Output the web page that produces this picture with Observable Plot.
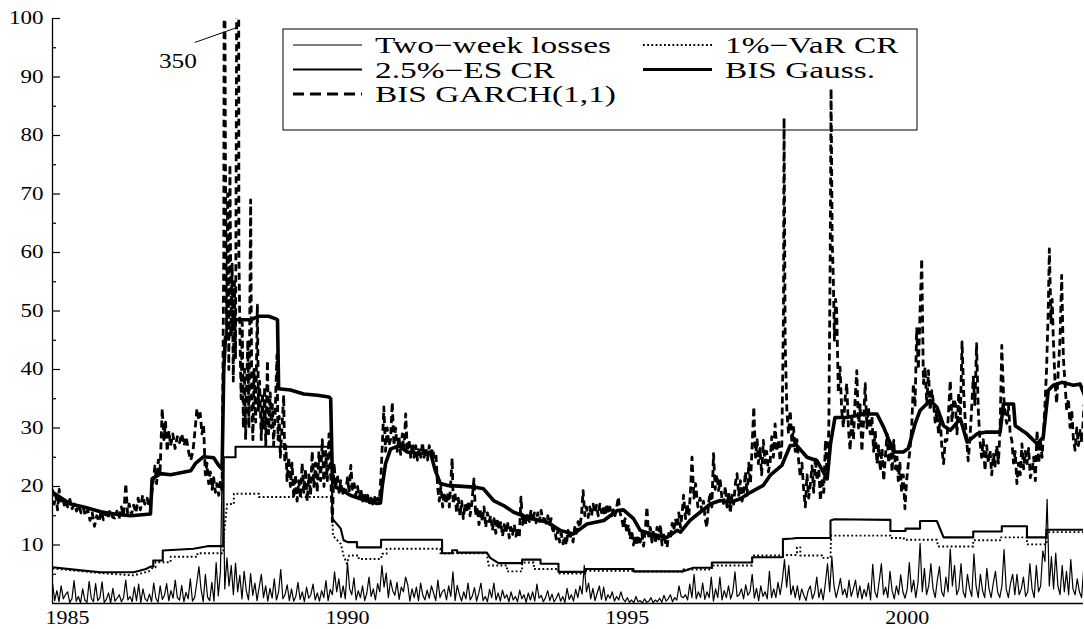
<!DOCTYPE html>
<html><head><meta charset="utf-8">
<script src="https://cdn.jsdelivr.net/npm/d3@7"></script>
<script src="https://cdn.jsdelivr.net/npm/@observablehq/plot@0.6"></script>
<style>body{margin:0;background:#fff}#chart{position:relative;width:1084px;height:629px}</style>
</head><body><div id="chart"></div>
<script>
// ---------- data ----------
const xTicks = [1985, 1990, 1995, 2000];
const yMajorTicks = [10, 20, 30, 40, 50, 60, 70, 80, 90, 100];
const yMinorTicks = [5, 15, 25, 35, 45, 55, 65, 75, 85, 95];
const xDomain = [1984.73, 2003.15];
const yDomain = [0, 100];
const seriesNames = ["Two−week losses", "1%−VaR CR", "2.5%−ES CR", "BIS Gauss.", "BIS GARCH(1,1)"];
const annotationLabel = [{text: "350", x: 1986.97, y: 92.7}];
const annotationLine = [{x1: 1987.27, y1: 95.9, x2: 1988.04, y2: 98.5}];

// two-week losses, one value per two weeks, starting 1984 + 19/26
const lossStart = 1984 + 19 / 26;
const lossPerYear = 26;
const lossValues = [
  3.4, 0.5, 2.2, 0.3, 3.0, 0.8, 1.5,
  2.0, 0.2, 0.8, 3.9, 0.4, 1.2, 0.1, 2.5, 0.6, 0.2, 3.8, 0.9, 0.3, 3.4, 0.5, 1.0, 3.7, 0.2, 0.7, 1.8, 0.1, 2.6, 0.4, 0.9, 1.5, 0.3,
  1.0, 4.0, 0.6, 1.2, 0.3, 2.8, 0.5, 3.3, 0.2, 2.5, 0.8, 0.4, 1.6, 0.3, 3.5, 0.9, 0.2, 3.0, 0.7, 1.4, 3.4, 0.5, 2.2, 0.9, 4.0, 1.0,
  0.6, 3.1, 0.3, 1.9, 0.8, 4.2, 0.4, 1.0, 3.5, 6.3, 2.4, 0.3, 5.0, 1.1, 0.5, 3.6, 0.4, 7.0, 1.3, 5.5, 28.0, 2.5, 7.8, 3.0, 6.5, 1.5,
  6.9, 2.0, 4.8, 0.8, 5.5, 2.2, 0.6, 5.1, 1.4, 3.5, 0.5, 2.8, 5.0, 1.0, 3.0, 0.4, 2.6, 0.9, 4.2, 0.6, 2.0, 5.8, 0.8, 1.5, 3.2, 0.5,
  2.5, 0.4, 1.2, 3.6, 0.7, 2.0, 0.3, 2.8, 0.9, 1.5, 3.3, 0.6, 1.8, 0.4, 2.2, 1.0, 3.9, 0.5, 2.4, 1.5, 5.4, 2.0, 4.2, 1.0, 3.0, 0.8,
  7.0, 2.5, 1.5, 4.4, 0.6, 2.2, 1.0, 3.0, 0.5, 1.8, 4.5, 1.2, 2.5, 0.6, 3.4, 2.0, 6.5, 2.8, 5.2, 1.0, 4.0, 2.2, 1.4, 3.6, 0.7, 2.8,
  2.0, 4.5, 3.2, 0.4, 2.5, 1.0, 2.8, 0.5, 3.5, 1.4, 0.6, 2.3, 0.9, 3.0, 1.8, 0.5, 4.0, 1.0, 2.0, 2.4, 0.6, 3.0, 1.2, 5.4, 0.5, 3.1,
  1.5, 0.4, 2.0, 0.8, 3.5, 0.6, 1.3, 2.7, 0.4, 1.8, 3.5, 0.5, 1.2, 0.3, 2.4, 1.0, 3.5, 0.6, 1.8, 0.4, 2.3, 0.9, 1.5, 0.3, 2.0, 0.6,
  1.2, 0.3, 2.3, 0.8, 1.5, 0.2, 1.8, 0.6, 2.0, 0.4, 3.3, 0.9, 1.4, 0.3, 1.0, 2.2, 0.5, 1.6, 0.3, 0.9, 1.8, 0.4, 1.2, 0.2, 2.6, 0.7,
  1.5, 0.4, 2.4, 1.0, 3.0, 1.6, 6.5, 2.0, 3.5, 0.8, 2.6, 0.5, 1.8, 3.0, 0.7, 2.8, 0.5, 1.5, 0.9, 2.0, 0.4, 1.2, 0.6, 2.0, 0.8, 0.3,
  1.0, 0.2, 0.6, 0.1, 1.2, 0.3, 0.5, 0.1, 0.8, 0.2, 0.4, 1.0, 0.1, 0.6, 0.3, 0.9, 0.2, 1.4, 0.4, 0.8, 1.5, 0.3, 1.0, 0.6, 3.0, 1.2,
  1.0, 1.5, 0.6, 3.3, 1.0, 5.0, 0.8, 2.0, 1.0, 3.5, 0.7, 2.0, 1.0, 4.5, 0.4, 2.5, 1.0, 4.5, 0.6, 2.2, 1.0, 3.0, 0.8, 2.0, 5.4, 1.2,
  1.5, 2.5, 0.8, 3.2, 1.4, 2.0, 5.0, 0.9, 2.6, 0.5, 3.0, 1.2, 2.0, 0.8, 5.5, 1.0, 2.5, 1.0, 3.6, 1.5, 4.0, 7.5, 2.8, 6.5, 1.5, 3.0,
  1.0, 3.0, 0.6, 2.5, 1.4, 0.5, 2.2, 3.0, 0.8, 1.8, 4.5, 1.0, 2.5, 0.6, 3.5, 6.8, 2.0, 8.0, 3.0, 1.0, 2.5, 4.3, 1.5, 2.5, 1.0, 4.0,
  1.2, 2.5, 4.0, 1.0, 3.0, 0.8, 2.4, 1.2, 3.5, 0.6, 6.7, 2.0, 1.0, 3.8, 6.8, 1.5, 2.8, 1.0, 5.5, 2.2, 0.8, 3.0, 1.5, 4.9, 2.0, 0.9,
  2.5, 7.0, 2.0, 4.0, 1.0, 3.5, 10.3, 2.0, 6.0, 1.5, 3.0, 6.8, 2.5, 1.0, 4.0, 6.3, 2.0, 1.2, 4.5, 2.0, 9.3, 3.0, 6.5, 1.5, 2.5, 6.8,
  2.0, 1.0, 5.0, 2.5, 1.2, 8.5, 3.0, 1.0, 5.0, 2.2, 1.0, 6.0, 2.5, 1.0, 3.5, 5.5, 2.0, 1.0, 3.0, 9.2, 2.5, 1.0, 3.5, 5.0, 1.5, 5.0,
  1.5, 2.5, 4.5, 1.2, 2.0, 6.8, 2.5, 1.0, 6.5, 2.0, 3.0, 9.0, 7.2, 17.8, 3.0, 8.0, 2.5, 8.6, 3.0, 1.5, 6.5, 2.0, 5.5, 1.5, 7.5, 2.5,
  1.5, 4.2, 2.0, 1.0, 6.0
];

// 1%-VaR capital requirement [year, value]
const varCR = [
  [1984.73, 6.0], [1985.59, 5.2], [1986.18, 4.8], [1986.45, 5.5], [1986.53, 6.2], [1986.57, 6.2], [1986.57, 7.06],
  [1986.84, 7.06], [1986.84, 8.0], [1987.32, 8.0], [1987.32, 8.6], [1987.78, 8.6], [1987.79, 11.6], [1987.85, 17.0],
  [1987.97, 17.0], [1987.97, 18.75], [1988.42, 18.75], [1988.42, 18.2], [1989.72, 18.2], [1989.74, 11.6], [1989.88, 10.2],
  [1989.93, 8.2], [1989.99, 6.8], [1990.03, 8.2], [1990.20, 8.2], [1990.20, 7.6], [1990.60, 7.6], [1990.62, 8.5],
  [1990.70, 8.5], [1990.70, 9.35], [1991.66, 9.35], [1991.66, 8.6], [1992.49, 8.6], [1992.52, 6.5], [1992.85, 6.5],
  [1992.85, 5.5], [1993.12, 5.5], [1993.12, 7.0], [1993.33, 7.0], [1993.33, 5.9], [1993.77, 5.9], [1993.77, 5.1],
  [1994.25, 5.1], [1994.25, 5.6], [1995.11, 5.6], [1995.11, 5.45], [1996.00, 5.45], [1996.00, 5.8], [1996.51, 5.8],
  [1996.51, 6.5], [1997.23, 6.5], [1997.23, 8.2], [1997.78, 8.2], [1997.78, 8.3], [1998.03, 8.3], [1998.03, 9.6],
  [1998.09, 9.6], [1998.09, 8.2], [1998.48, 8.2], [1998.48, 7.8], [1998.63, 7.8], [1998.64, 11.6], [1999.70, 11.6],
  [1999.70, 11.2], [1999.94, 11.2], [1999.94, 10.9], [2000.53, 10.9], [2000.55, 9.75], [2001.18, 9.75], [2001.18, 10.8],
  [2001.66, 10.8], [2001.66, 11.3], [2002.14, 11.3], [2002.14, 10.1], [2002.49, 10.1], [2002.49, 12.2], [2003.20, 12.2]
];

// 2.5%-ES capital requirement [year, value]
const esCR = [
  [1984.73, 6.2], [1985.20, 5.7], [1985.59, 5.35], [1986.18, 5.35], [1986.40, 5.9], [1986.48, 6.3], [1986.53, 6.3],
  [1986.53, 7.35], [1986.70, 7.35], [1986.70, 9.06], [1987.25, 9.35], [1987.50, 9.8], [1987.78, 9.8], [1987.79, 25.0],
  [1988.00, 25.0], [1988.00, 26.8], [1989.72, 26.8], [1989.73, 14.5], [1989.88, 12.8], [1989.93, 10.8], [1990.00, 10.5],
  [1990.17, 10.5], [1990.17, 9.6], [1990.60, 9.6], [1990.60, 10.9], [1991.69, 10.9], [1991.69, 8.6], [1991.87, 8.6],
  [1991.87, 9.1], [1991.96, 9.1], [1991.96, 8.7], [1992.49, 8.7], [1992.55, 7.8], [1992.70, 6.9], [1993.12, 6.9],
  [1993.12, 7.5], [1993.45, 7.5], [1993.45, 6.8], [1993.77, 6.8], [1993.77, 5.4], [1994.25, 5.4], [1994.25, 5.9],
  [1995.11, 5.9], [1995.11, 5.5], [1996.00, 5.5], [1996.18, 6.1], [1996.51, 6.1], [1996.51, 7.0], [1997.23, 7.0],
  [1997.23, 7.9], [1997.78, 7.9], [1997.78, 11.0], [1997.95, 11.1], [1998.03, 11.2], [1998.63, 11.2], [1998.63, 14.2],
  [1998.70, 14.4], [1999.70, 14.3], [1999.70, 12.4], [1999.97, 12.4], [1999.97, 12.8], [2000.23, 12.8], [2000.23, 14.1],
  [2000.53, 14.1], [2000.65, 11.3], [2001.18, 11.3], [2001.18, 12.3], [2001.69, 12.3], [2001.69, 13.2], [2002.14, 13.2],
  [2002.14, 11.3], [2002.49, 11.3], [2002.49, 12.6], [2003.20, 12.6]
];

// BIS Gaussian capital requirement [year, value]
const bisGauss = [
  [1984.73, 19.0], [1985.05, 17.0], [1985.29, 16.5], [1985.59, 15.7], [1985.89, 15.2], [1986.13, 15.0], [1986.48, 15.3],
  [1986.51, 21.3], [1986.66, 22.2], [1986.84, 22.0], [1987.20, 22.7], [1987.29, 24.0], [1987.43, 25.1], [1987.61, 24.9],
  [1987.70, 23.6], [1987.76, 23.0], [1987.79, 40.0], [1987.82, 45.5], [1987.91, 46.0], [1987.96, 48.5], [1988.06, 48.5],
  [1988.27, 48.5], [1988.42, 49.1], [1988.59, 49.1], [1988.71, 48.7], [1988.75, 48.5], [1988.77, 36.7], [1988.98, 36.5],
  [1989.22, 35.8], [1989.46, 35.6], [1989.67, 35.3], [1989.70, 35.0], [1989.73, 21.6], [1989.80, 19.8], [1989.88, 19.5],
  [1990.05, 18.5], [1990.23, 17.9], [1990.53, 17.1], [1990.59, 17.2], [1990.62, 20.0], [1990.68, 23.9], [1990.77, 26.4],
  [1990.92, 27.0], [1991.07, 25.9], [1991.30, 25.6], [1991.48, 25.9], [1991.57, 22.7], [1991.66, 20.5], [1991.78, 20.2],
  [1992.26, 19.9], [1992.43, 19.6], [1992.61, 17.6], [1992.79, 16.75], [1992.97, 15.6], [1993.21, 14.75], [1993.57, 13.9],
  [1993.80, 12.5], [1994.04, 11.9], [1994.28, 13.6], [1994.58, 14.2], [1994.82, 15.9], [1994.93, 16.0], [1995.11, 14.5],
  [1995.23, 12.5], [1995.41, 11.9], [1995.71, 11.3], [1995.89, 12.5], [1995.95, 12.2], [1996.12, 14.2], [1996.30, 15.6],
  [1996.48, 17.0], [1996.66, 17.6], [1996.84, 17.3], [1997.02, 17.9], [1997.20, 19.0], [1997.43, 20.2], [1997.55, 21.9],
  [1997.76, 23.6], [1997.91, 27.0], [1998.03, 27.0], [1998.21, 25.0], [1998.39, 24.4], [1998.57, 21.3], [1998.63, 27.3],
  [1998.71, 31.8], [1998.92, 31.8], [1999.22, 32.4], [1999.46, 32.4], [1999.58, 30.1], [1999.76, 25.9], [1999.93, 25.9],
  [2000.02, 26.5], [2000.14, 30.7], [2000.23, 33.0], [2000.41, 34.7], [2000.53, 33.6], [2000.65, 30.4], [2000.77, 29.6],
  [2000.95, 31.6], [2001.07, 27.6], [2001.25, 29.0], [2001.42, 29.3], [2001.66, 29.3], [2001.72, 34.1], [2001.90, 34.1],
  [2001.93, 30.4], [2002.14, 29.0], [2002.32, 27.3], [2002.43, 28.4], [2002.52, 36.4], [2002.61, 37.3], [2002.76, 37.8],
  [2002.97, 37.3], [2003.09, 37.5], [2003.16, 35.8]
];

// BIS GARCH(1,1) capital requirement [year, value]
const bisGarch = [
  [1984.73,19.5],[1984.76,17.0],[1984.79,18.5],[1984.82,16.0],[1984.85,19.5],[1984.88,17.5],[1984.91,18.2],[1984.94,16.8],
  [1984.97,17.5],[1985.00,16.5],[1985.04,17.8],[1985.08,16.2],[1985.12,17.0],[1985.16,15.8],[1985.20,16.8],[1985.24,15.5],
  [1985.28,16.3],[1985.32,15.0],[1985.36,16.0],[1985.40,14.2],[1985.44,15.5],[1985.48,13.2],[1985.52,15.0],[1985.56,14.0],
  [1985.60,15.8],[1985.64,14.3],[1985.68,15.5],[1985.72,14.5],[1985.76,16.0],[1985.80,14.8],[1985.84,14.6],[1985.88,15.8],
  [1985.92,14.5],[1985.96,16.5],[1986.00,15.0],[1986.04,20.5],[1986.07,15.5],[1986.10,17.0],[1986.14,15.2],[1986.18,16.8],
  [1986.22,15.5],[1986.26,18.0],[1986.30,16.0],[1986.34,18.5],[1986.38,17.0],[1986.42,18.0],[1986.46,16.5],[1986.50,18.5],
  [1986.53,21.0],[1986.56,23.5],[1986.59,20.5],[1986.62,24.5],[1986.65,22.0],[1986.69,33.3],[1986.72,28.0],[1986.75,31.0],
  [1986.78,26.0],[1986.81,29.5],[1986.84,27.0],[1986.88,29.0],[1986.92,26.5],[1986.96,28.5],[1987.00,27.5],[1987.04,29.0],
  [1987.08,27.0],[1987.12,28.5],[1987.16,26.0],[1987.20,24.5],[1987.24,26.0],[1987.28,30.0],[1987.31,33.3],[1987.34,31.5],
  [1987.37,32.5],[1987.40,29.0],[1987.43,30.5],[1987.46,22.0],[1987.49,24.0],[1987.52,20.5],[1987.55,22.5],[1987.58,19.5],
  [1987.61,21.5],[1987.64,19.0],[1987.67,20.5],[1987.70,18.5],[1987.73,21.0],[1987.76,19.0],
  [1987.79,60],[1987.80,130],[1987.82,75],[1987.84,45],[1987.86,70],[1987.88,40],[1987.90,75],[1987.92,48],[1987.94,58],
  [1987.96,38],[1987.98,55],[1988.00,42],[1988.02,100],[1988.04,350],[1988.06,60],[1988.08,45],[1988.10,35],[1988.12,48],
  [1988.14,30],[1988.16,40],[1988.18,28],[1988.20,38],[1988.22,45],[1988.24,30],[1988.27,69],[1988.29,35],[1988.31,28],
  [1988.33,40],[1988.36,31],[1988.39,51],[1988.41,33],[1988.43,38],[1988.46,28],[1988.48,36],[1988.50,30],[1988.52,37],
  [1988.54,27],[1988.57,41.5],[1988.59,29],[1988.62,36],[1988.64,30],[1988.66,34],[1988.68,27],[1988.71,33],[1988.74,42.5],
  [1988.76,28],[1988.78,32],[1988.80,25],[1988.83,30],[1988.86,35.6],[1988.88,24],[1988.90,27],[1988.92,21],[1988.95,25],
  [1988.98,20],[1989.01,24],[1989.04,18],[1989.07,22],[1989.10,17.5],[1989.13,21],[1989.16,18],[1989.19,24],[1989.22,19],
  [1989.25,23],[1989.28,17.5],[1989.31,22],[1989.34,18.5],[1989.37,26],[1989.40,20],[1989.43,24],[1989.46,19],[1989.49,26],
  [1989.52,21],[1989.55,28],[1989.58,20],[1989.61,26],[1989.64,21],[1989.67,29],[1989.70,22],[1989.73,14],[1989.76,24],
  [1989.79,20],[1989.82,22],[1989.85,19],[1989.88,21],[1989.91,18.5],[1989.94,20],[1989.97,19],[1990.00,21.5],[1990.03,19],
  [1990.06,23.6],[1990.09,19.5],[1990.12,20.5],[1990.15,18.5],[1990.18,20],[1990.21,18],[1990.24,19.5],[1990.27,17.5],
  [1990.30,19],[1990.33,17.5],[1990.36,18.5],[1990.39,17],[1990.42,18],[1990.45,17],[1990.48,18.5],[1990.51,17],[1990.54,18],
  [1990.57,17.5],[1990.60,22],[1990.65,33.6],[1990.68,26],[1990.71,30],[1990.74,27],[1990.77,28],[1990.80,34.4],[1990.83,27],
  [1990.86,30],[1990.89,26],[1990.92,28.5],[1990.95,25.5],[1990.98,29],[1991.01,26],[1991.04,32.4],[1991.07,26],[1991.10,28],
  [1991.13,25],[1991.16,27.5],[1991.19,25],[1991.22,27],[1991.25,24.5],[1991.28,26.5],[1991.31,25],[1991.34,27.5],[1991.37,25],
  [1991.40,26.5],[1991.43,24.5],[1991.46,27],[1991.49,25.5],[1991.52,26.5],[1991.55,25],[1991.58,25.6],[1991.61,20],
  [1991.64,17.5],[1991.67,20],[1991.70,16.5],[1991.73,19],[1991.76,17],[1991.79,19],[1991.82,16.5],[1991.87,24.8],[1991.89,17],
  [1991.92,19],[1991.95,15.5],[1991.98,18],[1992.01,15],[1992.04,17.5],[1992.07,14.5],[1992.10,17],[1992.13,15.5],[1992.16,17.5],
  [1992.19,15],[1992.22,17],[1992.26,21.3],[1992.29,15],[1992.32,16.5],[1992.35,13.5],[1992.38,16],[1992.41,14],[1992.44,16.5],
  [1992.47,13],[1992.50,15.5],[1992.53,14],[1992.56,15],[1992.59,12.5],[1992.62,14.5],[1992.65,12],[1992.68,14.5],[1992.71,12.5],
  [1992.74,14],[1992.77,11.5],[1992.80,13.5],[1992.83,12],[1992.86,14],[1992.89,11.2],[1992.92,13],[1992.95,11.8],[1992.98,13.5],
  [1993.01,11.5],[1993.04,13],[1993.07,11.2],[1993.10,18.2],[1993.13,13.5],[1993.16,15],[1993.19,13.5],[1993.22,15.5],
  [1993.25,14],[1993.28,16],[1993.31,14],[1993.34,15.5],[1993.37,13.8],[1993.40,15.5],[1993.43,14],[1993.46,15.9],[1993.49,14],
  [1993.52,15],[1993.55,13.7],[1993.58,15],[1993.61,13.5],[1993.64,14.5],[1993.67,12],[1993.70,13],[1993.73,11],[1993.76,12.5],
  [1993.79,10.5],[1993.82,12],[1993.85,10.2],[1993.88,11.5],[1993.91,10],[1993.94,12.5],[1993.97,11],[1994.00,12],[1994.03,10.5],
  [1994.06,13],[1994.09,12],[1994.12,14],[1994.15,13],[1994.18,15],[1994.21,19.3],[1994.24,15],[1994.27,16.5],[1994.30,14.7],
  [1994.33,16.5],[1994.36,15],[1994.39,17],[1994.42,15.5],[1994.45,16.8],[1994.48,15],[1994.51,17],[1994.54,15.5],[1994.57,16.5],
  [1994.60,15],[1994.63,17],[1994.66,15.5],[1994.69,16.5],[1994.72,15],[1994.75,16],[1994.78,15],[1994.81,16.5],[1994.84,18.2],
  [1994.87,15.5],[1994.90,14.5],[1994.93,13],[1994.96,14.5],[1994.99,12],[1995.02,13.5],[1995.05,11],[1995.08,12.5],[1995.11,10],
  [1995.14,11.5],[1995.17,9.9],[1995.20,11.5],[1995.23,10.5],[1995.26,12],[1995.29,9.8],[1995.32,12.5],[1995.35,16.5],
  [1995.38,11.5],[1995.41,13],[1995.44,10.5],[1995.47,12.5],[1995.50,10.3],[1995.53,13],[1995.56,11],[1995.59,13.5],[1995.62,10],
  [1995.65,12],[1995.68,10.5],[1995.71,9.6],[1995.74,12],[1995.77,11],[1995.80,13.7],[1995.83,12.5],[1995.86,14.5],[1995.89,13],
  [1995.92,15.5],[1995.95,13],[1995.98,15.5],[1996.005,18.5],[1996.04,14.5],[1996.07,17],[1996.10,15],[1996.13,19.5],
  [1996.155,25],[1996.19,18],[1996.22,20.5],[1996.26,16.5],[1996.30,18],[1996.33,15.9],[1996.36,17.5],[1996.39,14.5],
  [1996.42,13],[1996.45,17],[1996.48,19],[1996.51,16.5],[1996.54,25.6],[1996.57,19.5],[1996.60,22],[1996.63,19.3],[1996.66,21],
  [1996.69,18],[1996.72,17.1],[1996.75,20],[1996.78,16.5],[1996.81,19],[1996.84,15.4],[1996.87,18.5],[1996.90,17],[1996.93,20.5],
  [1996.96,22.2],[1996.99,18.5],[1997.02,21],[1997.05,17.5],[1997.08,19.3],[1997.11,22.5],[1997.14,18.5],[1997.17,24],
  [1997.20,20.5],[1997.23,27],[1997.26,33.6],[1997.29,25],[1997.32,28],[1997.34,23.9],[1997.37,26.5],[1997.40,22],[1997.43,27.9],
  [1997.46,24],[1997.49,26],[1997.52,22.5],[1997.55,24],[1997.58,28.5],[1997.61,25],[1997.64,30.7],[1997.67,26],[1997.70,28],
  [1997.73,24.4],[1997.76,27],[1997.79,50],[1997.80,83],[1997.82,45],[1997.85,33],[1997.88,29],[1997.91,33],[1997.94,27.5],
  [1997.97,30.1],[1998.00,26],[1998.03,28],[1998.06,24.5],[1998.09,21.6],[1998.12,24],[1998.15,19.5],[1998.18,16.5],[1998.21,22],
  [1998.24,18],[1998.27,20.5],[1998.30,23.5],[1998.33,19],[1998.36,25],[1998.39,21],[1998.42,23],[1998.45,17.6],[1998.48,21.5],
  [1998.51,19],[1998.54,27.9],[1998.57,21.5],[1998.60,30],[1998.625,60],[1998.64,88],[1998.66,62],[1998.68,55.8],[1998.70,45],
  [1998.72,52],[1998.74,50.1],[1998.77,36],[1998.80,40.4],[1998.83,33],[1998.86,30.1],[1998.89,35],[1998.92,37.6],[1998.95,30],
  [1998.98,26.2],[1999.01,32],[1999.04,28],[1999.07,35],[1999.10,39.8],[1999.13,30],[1999.16,34],[1999.19,26],[1999.22,31],
  [1999.25,37.6],[1999.28,30],[1999.31,33.5],[1999.34,29],[1999.37,32],[1999.40,26],[1999.43,29.5],[1999.46,23.9],[1999.49,27],
  [1999.52,22.7],[1999.55,26.5],[1999.58,21],[1999.61,25],[1999.64,29],[1999.67,24],[1999.70,27.9],[1999.73,22.5],[1999.76,27.9],
  [1999.79,23],[1999.82,25],[1999.84,21],[1999.87,24],[1999.90,19],[1999.93,22],[1999.96,16.2],[1999.99,21],[2000.02,23.9],
  [2000.05,26.2],[2000.08,30],[2000.11,37.6],[2000.14,33.6],[2000.17,47],[2000.20,40],[2000.23,50],[2000.26,58.9],[2000.29,37.6],
  [2000.32,40.4],[2000.35,34],[2000.38,39.8],[2000.41,33],[2000.44,36.4],[2000.47,34.2],[2000.50,31],[2000.53,33],[2000.56,29],
  [2000.59,31.5],[2000.62,26.5],[2000.65,23.9],[2000.68,28],[2000.71,27.9],[2000.74,33],[2000.77,38.1],[2000.80,31],[2000.83,35],
  [2000.86,34.2],[2000.89,29],[2000.92,36],[2000.95,32],[2000.98,44.7],[2001.01,36],[2001.04,30.8],[2001.07,27],[2001.09,24.4],
  [2001.12,28],[2001.15,33],[2001.18,38.7],[2001.21,34],[2001.24,44.4],[2001.27,33],[2001.30,27.9],[2001.33,25],[2001.36,28],
  [2001.39,22.7],[2001.42,27],[2001.45,24],[2001.48,26.2],[2001.51,22],[2001.54,25.5],[2001.57,23.5],[2001.60,27],[2001.63,24],
  [2001.66,30],[2001.69,44.1],[2001.72,36],[2001.75,32],[2001.78,30.8],[2001.81,34],[2001.84,29],[2001.87,27.9],[2001.90,24],
  [2001.93,26],[2001.96,20.5],[2001.99,24],[2002.02,22],[2002.05,27.3],[2002.08,23],[2002.11,26],[2002.14,23.9],[2002.17,26.5],
  [2002.20,21.5],[2002.23,22.7],[2002.26,25],[2002.29,21],[2002.32,29.6],[2002.35,24],[2002.38,27.9],[2002.41,25],[2002.44,30],
  [2002.46,33.6],[2002.49,40],[2002.52,50],[2002.54,60.6],[2002.57,48],[2002.59,52],[2002.61,45.5],[2002.64,38],[2002.67,34.2],
  [2002.70,40],[2002.73,45],[2002.76,56.1],[2002.79,42],[2002.82,37.6],[2002.85,33],[2002.88,35],[2002.91,30.1],[2002.94,33],
  [2002.97,28],[2003.00,26.2],[2003.03,30],[2003.06,27],[2003.09,29.6],[2003.12,27.5],[2003.16,34]
];

// ---------- tables ----------
const lossData = lossValues.map((v, i) => ({year: lossStart + i / lossPerYear, value: v}));
const pairs = arr => arr.map(([year, value]) => ({year, value}));

// ---------- styles ----------
const FONT = "'Liberation Serif', 'Times New Roman', serif";
const styles = {
  "Two−week losses": {strokeWidth: 1.2},
  "1%−VaR CR": {strokeWidth: 1.9, strokeDasharray: "1.8,2.4", strokeLinecap: "butt"},
  "2.5%−ES CR": {strokeWidth: 2.1},
  "BIS Gauss.": {strokeWidth: 3.6},
  "BIS GARCH(1,1)": {strokeWidth: 2.8, strokeDasharray: "7,4", strokeLinecap: "butt"}
};
const lineOpts = name => ({x: "year", y: "value", stroke: "black", clip: true, strokeLinejoin: "round", ...styles[name]});

const frameW = 1084 - 52 - 1;
const chart = Plot.plot({
  width: 1084, height: 629,
  marginLeft: 52, marginRight: 1, marginTop: 18, marginBottom: 26,
  style: {fontFamily: FONT, fontSize: "18px", color: "black", background: "white"},
  x: {domain: xDomain},
  y: {domain: yDomain},
  marks: [
    Plot.axisY({ticks: yMajorTicks, tickSize: 0, tickPadding: 9, fontSize: 18, tickFormat: d => String(d)}),
    Plot.axisX({ticks: xTicks, tickSize: 0, tickPadding: 7, fontSize: 19, tickFormat: d => String(d)}),
    Plot.tickY(yMajorTicks, {y: d => d, insetRight: frameW - 8, stroke: "black", strokeWidth: 1.2}),
    Plot.tickY(yMinorTicks, {y: d => d, insetRight: frameW - 4, stroke: "black", strokeWidth: 1.2}),
    Plot.line(lossData, lineOpts(seriesNames[0])),
    Plot.line(pairs(varCR), lineOpts(seriesNames[1])),
    Plot.line(pairs(esCR), lineOpts(seriesNames[2])),
    Plot.line(pairs(bisGarch), lineOpts(seriesNames[4])),
    Plot.line(pairs(bisGauss), lineOpts(seriesNames[3])),
    Plot.ruleX([xDomain[0]], {stroke: "black", strokeWidth: 1.3}),
    Plot.ruleY([yDomain[0]], {stroke: "black", strokeWidth: 1.3}),
    Plot.link(annotationLine, {x1: "x1", y1: "y1", x2: "x2", y2: "y2", stroke: "black", strokeWidth: 1}),
    Plot.text(annotationLabel, {x: "x", y: "y", text: "text", fontSize: 22, fill: "black"})
  ]
});
document.getElementById("chart").appendChild(chart);

// ---------- legend (inside the plot frame, no fill) ----------
const svg = d3.select(chart);
const lg = svg.append("g").attr("font-family", FONT).attr("font-size", 23).attr("fill", "black").attr("text-anchor", "start");
lg.append("rect").attr("x", 283).attr("y", 29).attr("width", 634).attr("height", 101)
  .attr("fill", "none").attr("stroke", "black").attr("stroke-width", 1);
const legendPos = [[0, 0], [1, 0], [0, 1], [1, 1], [0, 2]];
const colX = [293, 643], rowBase = [53, 77.5, 102];
seriesNames.forEach((name, i) => {
  const [c, r] = legendPos[i];
  const st = styles[name];
  const ly = rowBase[r] - 8;
  lg.append("line").attr("x1", colX[c]).attr("x2", colX[c] + 69).attr("y1", ly).attr("y2", ly)
    .attr("stroke", "black").attr("stroke-width", Math.min(st.strokeWidth, 3.2))
    .attr("stroke-dasharray", name === "BIS GARCH(1,1)" ? "11,6" : (st.strokeDasharray || null))
    .attr("stroke-linecap", "butt");
  lg.append("text").attr("class", "legend-label").attr("x", colX[c] + 82).attr("y", rowBase[r])
    .attr("text-anchor", "start").text(name);
});

// widen the serif text horizontally as in the reference
function setWidth(nodes, widthOf) {
  nodes.forEach(t => {
    const w = widthOf(t);
    if (w > 0) { t.setAttribute("textLength", w.toFixed(1)); t.setAttribute("lengthAdjust", "spacingAndGlyphs"); }
  });
}
setWidth(chart.querySelectorAll('[aria-label="y-axis tick label"] text'), t => t.textContent.length * 11.5);
setWidth(chart.querySelectorAll('[aria-label="x-axis tick label"] text'), t => 44);
setWidth(chart.querySelectorAll('[aria-label="text"] text'), t => 38);
setWidth(chart.querySelectorAll('text.legend-label'), t => t.getComputedTextLength() * 1.45);
</script>
</body></html>
